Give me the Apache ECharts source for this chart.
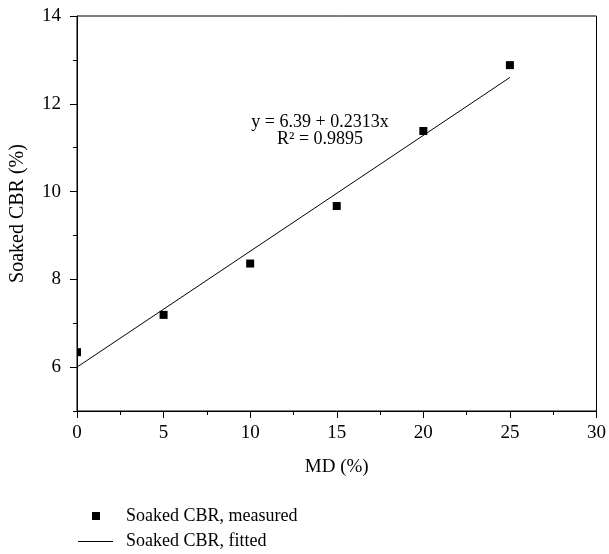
<!DOCTYPE html>
<html>
<head>
<meta charset="utf-8">
<script src="https://cdn.jsdelivr.net/npm/echarts@6/dist/echarts.min.js"></script>
<style>html,body{margin:0;padding:0;background:#fff}#c{width:609px;height:554px}</style>
</head>
<body>
<div id="c"></div>
<script>
const mdValues = [0, 5, 10, 15, 20, 25];
const cbrMeasured = [6.34, 7.19, 8.36, 9.67, 11.38, 12.88];
const fitX = [0, 25];
const fitY = [6.0, 12.6];
const yLabelValues = [6, 8, 10, 12, 14];
const yMinorTickValues = [5, 7, 9, 11, 13];
const measuredName = 'Soaked CBR, measured';
const fittedName = 'Soaked CBR, fitted';
const equationText = 'y = 6.39 + 0.2313x';
const r2Text = 'R\u00B2 = 0.9895';

const FONT = 'Liberation Serif';
const chart = echarts.init(document.getElementById('c'), null, {renderer: 'canvas'});
const measuredData = mdValues.map((x, i) => [x, cbrMeasured[i]]);
const fitData = fitX.map((x, i) => [x, fitY[i]]);

chart.setOption({
  animation: false,
  backgroundColor: '#fff',
  textStyle: {fontFamily: FONT, color: '#000'},
  grid: {left: 77, right: 11, top: 16, bottom: 143, show: true, borderColor: '#000', borderWidth: 1, backgroundColor: 'transparent'},
  xAxis: {
    type: 'value', min: 0, max: 30, interval: 5,
    name: 'MD (%)', nameLocation: 'middle', nameGap: 47,
    nameTextStyle: {fontFamily: FONT, fontSize: 19, color: '#000'},
    axisLine: {show: true, lineStyle: {color: '#000', width: 1}},
    axisTick: {show: true, inside: false, length: 7, lineStyle: {color: '#000'}},
    minorTick: {show: true, splitNumber: 2, length: 4, lineStyle: {color: '#000'}},
    axisLabel: {fontFamily: FONT, fontSize: 19, color: '#000', margin: 13},
    splitLine: {show: false}
  },
  yAxis: [{
    type: 'value', min: 5, max: 14, interval: 1,
    name: 'Soaked CBR (%)', nameLocation: 'middle', nameGap: 49,
    nameTextStyle: {fontFamily: FONT, fontSize: 20, color: '#000'},
    axisLine: {show: true, lineStyle: {color: '#000', width: 1}},
    axisTick: {show: true, inside: false, length: 7, customValues: yLabelValues, lineStyle: {color: '#000'}},
    axisLabel: {fontFamily: FONT, fontSize: 19, color: '#000', margin: 16, customValues: yLabelValues},
    splitLine: {show: false}
  }, {
    type: 'value', min: 5, max: 14, interval: 1, position: 'left', offset: 0,
    axisLine: {show: false},
    axisTick: {show: true, inside: false, length: 4, customValues: yMinorTickValues, lineStyle: {color: '#000'}},
    axisLabel: {show: false},
    splitLine: {show: false}
  }],
  legend: [{
    data: [{name: measuredName, icon: 'rect'}],
    orient: 'vertical', left: 92, top: 507, padding: 0,
    itemWidth: 8, itemHeight: 8,
    textStyle: {fontFamily: FONT, fontSize: 18, color: '#000', padding: [0, 0, 0, 21]}
  }, {
    data: [{name: fittedName, icon: 'rect'}],
    orient: 'vertical', left: 78, top: 532.5, padding: 0,
    itemWidth: 35, itemHeight: 1,
    textStyle: {fontFamily: FONT, fontSize: 18, color: '#000', padding: [0, 0, 0, 8]}
  }],
  graphic: [{
    type: 'text', x: 320, y: 114, z: 10,
    style: {
      text: equationText + '\n' + r2Text,
      font: '18px "Liberation Serif"', fill: '#000', align: 'center', verticalAlign: 'top', lineHeight: 17
    }
  }],
  series: [{
    name: fittedName, type: 'line', data: fitData, symbol: 'none',
    lineStyle: {color: '#000', width: 1}, itemStyle: {color: '#000'}, z: 2
  }, {
    name: measuredName, type: 'custom', clip: true, z: 3,
    itemStyle: {color: '#000'},
    data: measuredData,
    renderItem: function (params, api) {
      const p = api.coord([api.value(0), api.value(1)]);
      return {type: 'rect', shape: {x: p[0] - 4, y: p[1] - 4, width: 8, height: 8}, style: {fill: '#000'}};
    }
  }]
});
</script>
</body>
</html>
